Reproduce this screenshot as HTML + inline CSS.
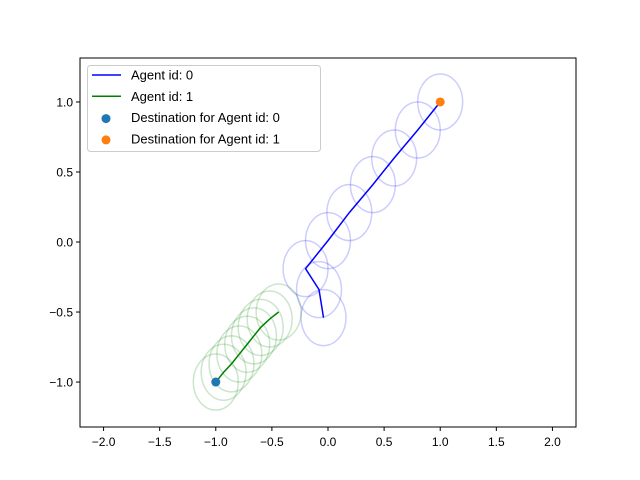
<!DOCTYPE html>
<html><head><meta charset="utf-8"><style>body{margin:0;background:#fff}svg{display:block;font-family:"Liberation Sans","DejaVu Sans",sans-serif}</style></head>
<body>
<svg id="c" width="640" height="480"></svg>
<script>
const xTicks=[-2.0,-1.5,-1.0,-0.5,0.0,0.5,1.0,1.5,2.0];
const yTicks=[-1.0,-0.5,0.0,0.5,1.0];
const agent0X=[-0.04,-0.08,-0.2,0.0,0.19,0.4,0.59,0.8,1.0];
const agent0Y=[-0.54,-0.34,-0.19,0.01,0.21,0.41,0.6,0.8,1.0];
const agent1X=[-0.44,-0.52,-0.6,-0.66,-0.72,-0.79,-0.86,-0.93,-1.0];
const agent1Y=[-0.5,-0.55,-0.61,-0.67,-0.73,-0.8,-0.87,-0.93,-1.0];
const destX=[-1.0,1.0];
const destY=[-1.0,1.0];
const radius=0.2;
const L=80,R=576,T=58,B=427;
const xmin=-2.21,xmax=2.21,ymin=-1.321,ymax=1.314;
const sx=v=>L+(v-xmin)/(xmax-xmin)*(R-L);
const sy=v=>B-(v-ymin)/(ymax-ymin)*(B-T);
const svg=document.getElementById('c');const NS='http://www.w3.org/2000/svg';
function mk(t,a,p){const e=document.createElementNS(NS,t);for(const k in a)e.setAttribute(k,a[k]);(p||svg).appendChild(e);return e;}
function circles(xs,ys,col,nm){xs.forEach((x,i)=>{const e=mk('ellipse',{cx:sx(x),cy:sy(ys[i]),rx:sx(radius)-sx(0),ry:sy(0)-sy(radius),fill:'none',stroke:col,'stroke-opacity':0.2,'stroke-width':1.5});

});}
circles(agent0X,agent0Y,'#0000ff','agent-0-radius');
circles(agent1X,agent1Y,'#008000','agent-1-radius');
function line(xs,ys,col,nm){const e=mk('polyline',{points:xs.map((x,i)=>sx(x)+','+sy(ys[i])).join(' '),fill:'none',stroke:col,'stroke-width':1.5});

}
line(agent0X,agent0Y,'#0000ff','agent-0-path');
line(agent1X,agent1Y,'#008000','agent-1-path');
const dc=['#1f77b4','#ff7f0e'];
destX.forEach((x,i)=>{const e=mk('circle',{cx:sx(x),cy:sy(destY[i]),r:4.5,fill:dc[i]});

});
const fr=mk('rect',{x:L,y:T,width:R-L,height:B-T,fill:'none',stroke:'#000','stroke-width':1});


xTicks.forEach(v=>{const x=sx(v);mk('line',{x1:x,x2:x,y1:B,y2:B+4,stroke:'#000'});const t=mk('text',{x:x,y:B+19,'text-anchor':'middle','font-size':12});t.textContent=v.toFixed(1).replace('-','−');

});
yTicks.forEach(v=>{const y=sy(v);mk('line',{x1:L-4,x2:L,y1:y,y2:y,stroke:'#000'});const t=mk('text',{x:L-7,y:y+4.5,'text-anchor':'end','font-size':12});t.textContent=v.toFixed(1).replace('-','−');

});
const g=mk('g',{});


mk('rect',{x:87.5,y:65.5,width:233,height:86,rx:3,fill:'#fff','fill-opacity':0.8,stroke:'#ccc'},g);
const labels=['Agent id: 0','Agent id: 1','Destination for Agent id: 0','Destination for Agent id: 1'];
labels.forEach((s,i)=>{const y=75+i*21.3;
if(i<2)mk('line',{x1:92,x2:121,y1:y,y2:y,stroke:i?'#008000':'#0000ff','stroke-width':1.5},g);
else mk('circle',{cx:106,cy:y+1,r:4.5,fill:dc[i-2]},g);
const t=mk('text',{x:131,y:y+4.5,'font-size':13},g);t.textContent=s;

});
</script>
</body></html>
